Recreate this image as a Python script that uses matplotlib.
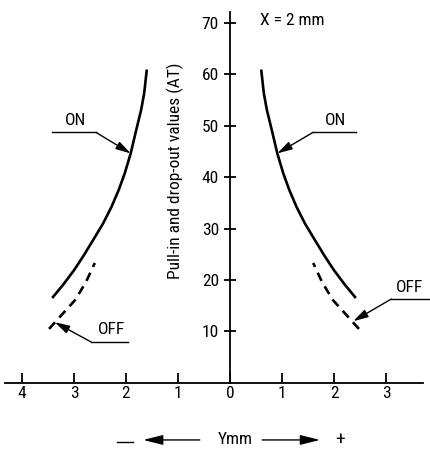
import matplotlib
matplotlib.use("Agg")
import matplotlib.pyplot as plt
from matplotlib import font_manager

# narrow sans if installed, else the normal one a bit smaller
names = {f.name for f in font_manager.fontManager.ttflist}
fam, fs = "Liberation Sans", 11.5
for cand in ["Liberation Sans Narrow", "Roboto Condensed"]:
    if cand in names:
        fam, fs = cand, 12.5
        break
plt.rcParams['font.family'] = [fam, 'DejaVu Sans']

# data (Y in mm, values in AT)
on_right_x = [0.60, 0.65, 0.71, 0.79, 0.91, 1.025, 1.14, 1.28, 1.44, 1.63, 1.83, 2.00, 2.20, 2.42]
on_right_y = [60.9, 56.3, 53.0, 49.7, 44.6, 40.7, 37.5, 34.2, 31.0, 27.8, 24.5, 21.9, 19.2, 16.5]
off_right_x = [2.48, 1.98, 1.77, 1.60]
off_right_y = [10.5, 16.1, 19.6, 23.3]

on_left_x = [-1.60, -1.65, -1.71, -1.79, -1.91, -2.025, -2.14, -2.28, -2.44, -2.63, -2.83, -3.00, -3.20, -3.42]
on_left_y = [60.9, 56.3, 53.0, 49.7, 44.6, 40.7, 37.5, 34.2, 31.0, 27.8, 24.5, 21.9, 19.2, 16.5]
off_left_x = [-3.48, -2.98, -2.77, -2.60]
off_left_y = [10.5, 16.1, 19.6, 23.3]

x_ticks = [-4, -3, -2, -1, 0, 1, 2, 3]
x_labels = ["4", "3", "2", "1", "0", "1", "2", "3"]
y_ticks = [10, 20, 30, 40, 50, 60, 70]

fig = plt.figure(figsize=(4.30, 4.54), dpi=100)
ax = fig.add_axes([0, 0, 1, 1])
ax.set_xlim(-4.423, 3.846)
ax.set_ylim(-13.8, 74.4)

for s in ["top", "right"]:
    ax.spines[s].set_visible(False)
ax.spines["left"].set_position(("data", 0))
ax.spines["bottom"].set_position(("data", 0))
ax.spines["left"].set_bounds(0, 72.0)
ax.spines["bottom"].set_bounds(-4.33, 3.71)
for s in ["left", "bottom"]:
    ax.spines[s].set_linewidth(1.3)

ax.set_xticks(x_ticks)
ax.set_xticklabels(x_labels)
ax.set_yticks(y_ticks)
ax.tick_params(axis="x", direction="in", length=7.2, width=1.3, pad=2.5, labelsize=fs)
ax.tick_params(axis="y", direction="inout", length=8, width=1.3, pad=4, labelsize=fs)

ax.plot(on_right_x, on_right_y, color="black", lw=1.9, solid_capstyle="butt")
ax.plot(on_left_x, on_left_y, color="black", lw=1.9, solid_capstyle="butt")
ax.plot(off_right_x, off_right_y, color="black", lw=1.9, dashes=(3.4, 2.4))
ax.plot(off_left_x, off_left_y, color="black", lw=1.9, dashes=(3.4, 2.4))

ax.text(-1.05, 41.3, "Pull-in and drop-out values (AT)", rotation=90,
        ha="center", va="center", fontsize=fs)
ax.text(0.58, 70.5, "X = 2 mm", ha="left", va="center", fontsize=fs)

# leader lines with arrows
arrow = dict(arrowstyle="-|>,head_length=0.9,head_width=0.25", color="black",
             lw=1.0, shrinkA=0, shrinkB=0)
labels = [
    ("ON", (-2.98, 50.9), (-3.42, -2.58), 48.7, (-2.58, 48.7), (-1.91, 44.6)),
    ("ON", (2.02, 50.9), (1.60, 2.42), 48.7, (1.60, 48.7), (0.91, 44.6)),
    ("OFF", (-2.27, 10.3), (-2.67, -1.96), 7.96, (-2.67, 7.96), (-3.37, 11.8)),
    ("OFF", (3.46, 18.6), (3.10, 3.85), 16.3, (3.10, 16.3), (2.37, 12.0)),
]
for txt, tpos, hx, hy, a0, a1 in labels:
    ax.text(tpos[0], tpos[1], txt, ha="center", va="center", fontsize=fs)
    ax.plot(hx, [hy, hy], color="black", lw=1.0)
    ax.annotate("", xy=a1, xytext=a0, arrowprops=arrow)

# bottom axis caption
yb = -11.07
big = dict(arrowstyle="-|>,head_length=1.2,head_width=0.3", color="black",
           lw=1.0, shrinkA=0, shrinkB=0)
ax.plot([-2.17, -1.87], [yb - 0.4, yb - 0.4], color="black", lw=1.0)
ax.annotate("", xy=(-1.67, yb), xytext=(-0.58, yb), arrowprops=big)
ax.text(0.1, yb, "Ymm", ha="center", va="center", fontsize=fs)
ax.annotate("", xy=(1.73, yb), xytext=(0.62, yb), arrowprops=big)
ax.text(2.12, yb, "+", ha="center", va="center", fontsize=fs + 1.5)

fig.savefig("out.png", dpi=100)
